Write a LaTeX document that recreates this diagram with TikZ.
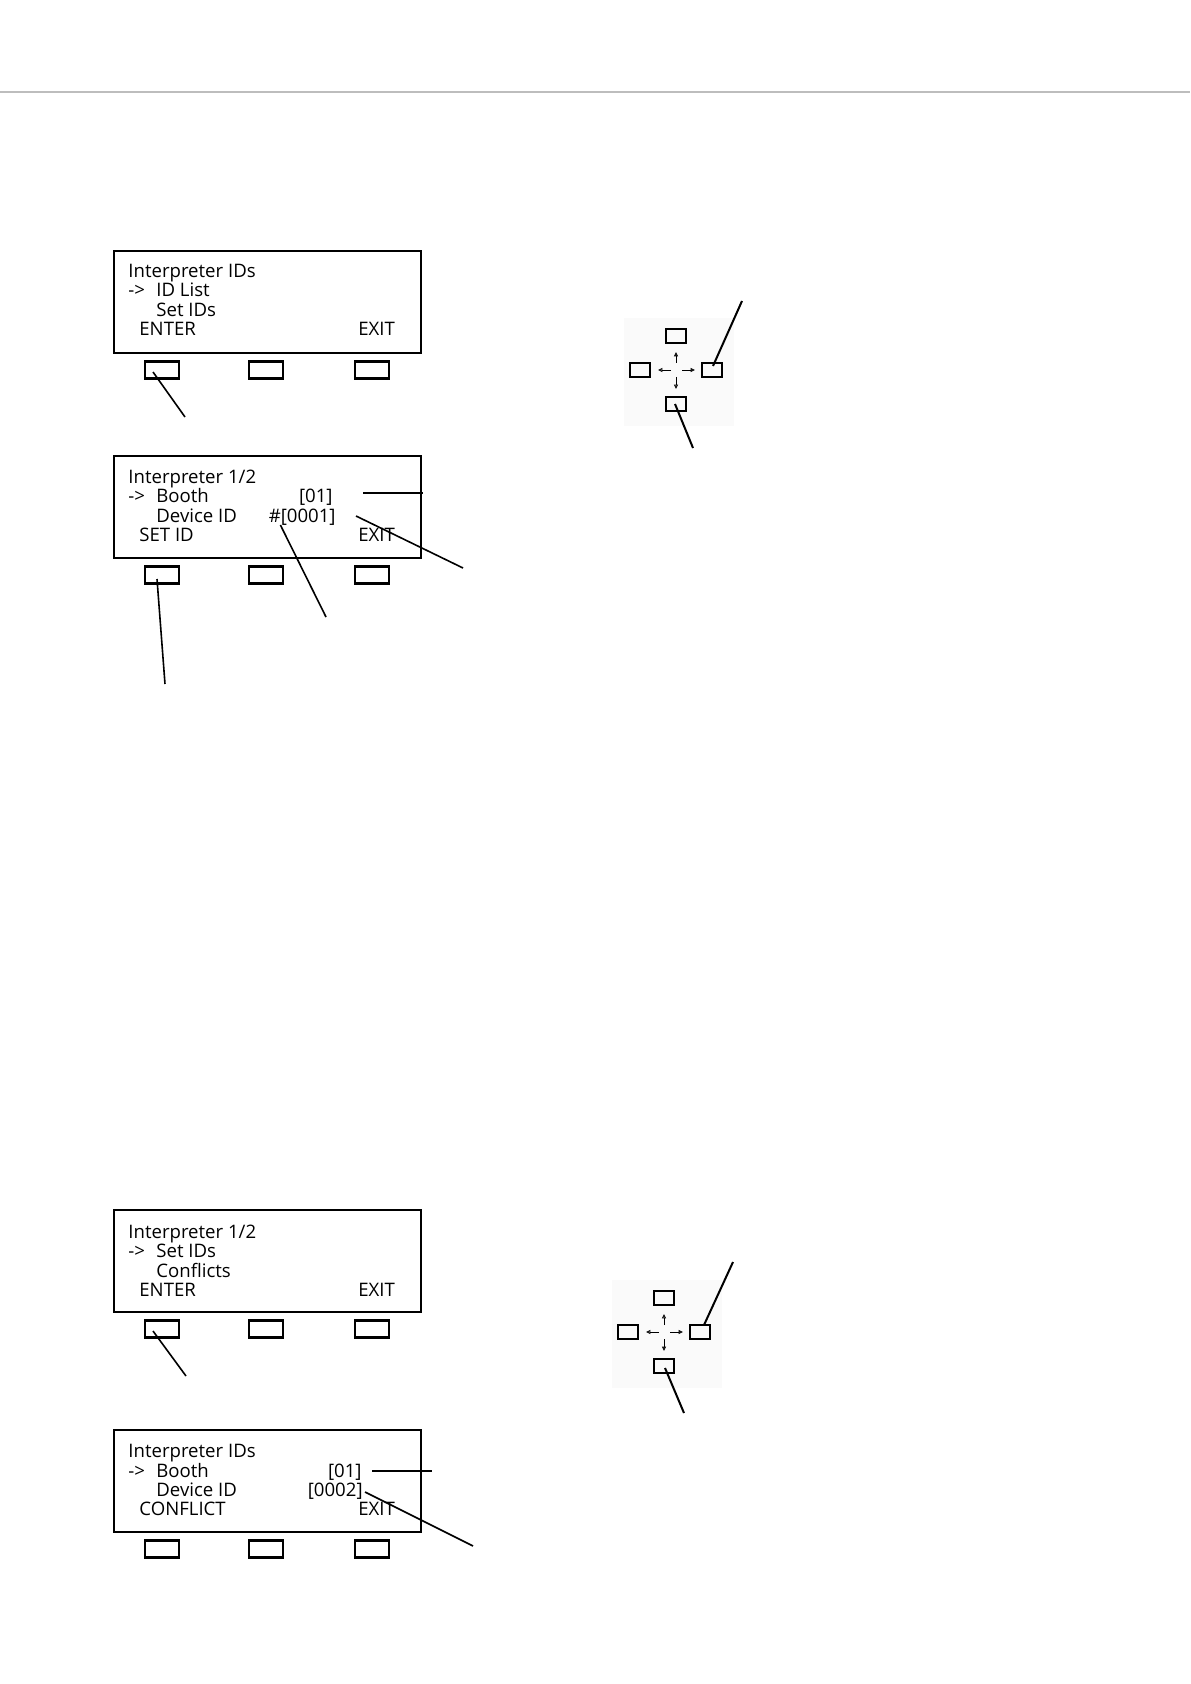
\documentclass[tikz,border=0pt]{standalone}
\usepackage{fontspec}
\setmainfont{Open Sans}
\usetikzlibrary{arrows.meta, calc}
\definecolor{rulegrey}{HTML}{BDBDBD}
\definecolor{padshade}{HTML}{FAFAFA}
\tikzset{
  lcdframe/.style={line width=1.2pt},
  softkey/.style={draw, line width=1.15pt, minimum width=17pt, minimum height=8.5pt, inner sep=0pt},
  navkey/.style={draw, line width=1.3pt, minimum width=10pt, minimum height=7pt, inner sep=0pt},
  lcdtext/.style={anchor=base west, inner sep=0pt, font=\fontsize{9.3}{10}\selectfont},
  lcdval/.style={lcdtext, anchor=base east},
  leader/.style={line width=0.8pt},
  navarrow/.style={line width=0.45pt, -{Triangle[open, length=2.2pt, width=2pt]}}
}
% screen frame with its three soft keys: name, top edge
\newcommand{\lcd}[2]{%
  \draw[lcdframe] (114,#2) rectangle (421,#2+102);
  \foreach \k/\bx in {1/162,2/266,3/372}
    \node[softkey] (#1-k\k) at (\bx,#2+119) {};}
% four-way key pad: name, centre x, centre y
\newcommand{\navpad}[3]{%
  \begin{scope}[shift={(#2,#3)}]
    \fill[padshade] (-52,-52) rectangle (58,56);
    \node[navkey] (#1-up) at (0,-34) {};
    \node[navkey] (#1-lt) at (-36,0) {};
    \node[navkey] (#1-rt) at (36,0) {};
    \node[navkey] (#1-dn) at (0,34) {};
    \draw[navarrow] (0,-7) -- (0,-18);
    \draw[navarrow] (0,7) -- (0,19);
    \draw[navarrow] (-5,0) -- (-18,0);
    \draw[navarrow] (6,0) -- (19,0);
  \end{scope}}

\begin{document}
\begin{tikzpicture}[x=0.5pt, y=-0.5pt]
  \useasboundingbox (0,0) rectangle (1190,1684);
  \draw[rulegrey, line width=0.9pt] (0,92) -- (1190,92);

  % first screen
  \lcd{s1}{251}
  \node[lcdtext] (s1-title) at (128,278) {Interpreter IDs};
  \node[lcdtext] (s1-ptr) at (128,297) {->};
  \node[lcdtext] (s1-row1) at (156,297) {ID List};
  \node[lcdtext] (s1-row2) at (156,317) {Set IDs};
  \node[lcdtext] (s1-left) at (139,336) {ENTER};
  \node[lcdtext] (s1-right) at (358,336) {EXIT};
  \coordinate (s1-tip) at (185,417);
  \draw[leader] ($(s1-k1)+(-9,2)$) -- (s1-tip);

  % second screen
  \lcd{s2}{456}
  \node[lcdtext] (s2-title) at (128,483) {Interpreter 1/2};
  \node[lcdtext] (s2-ptr) at (128,502) {->};
  \node[lcdtext] (s2-row1) at (156,502) {Booth};
  \node[lcdval] (s2-booth) at (333,502) {[01]};
  \node[lcdtext] (s2-row2) at (156,522) {Device ID};
  \node[lcdval] (s2-dev) at (336,522) {\#[0001]};
  \node[lcdtext] (s2-left) at (139,541) {SET ID};
  \node[lcdtext] (s2-right) at (358,541) {EXIT};
  \coordinate (s2-booth-tip) at (423,493);
  \coordinate (s2-dev-tip) at (463,568);
  \coordinate (s2-hash-tip) at (326,617);
  \coordinate (s2-key-tip) at (165,684);
  \draw[leader] ($(s2-booth.base east)+(30,-9)$) -- (s2-booth-tip);
  \draw[leader] ($(s2-dev.base east)+(20,-6)$) -- (s2-dev-tip);
  \draw[leader] ($(s2-dev.base west)+(12,3)$) -- (s2-hash-tip);
  \draw[leader] ($(s2-k1)+(-5,4)$) -- (s2-key-tip);

  % first key pad
  \navpad{p1}{676}{370}
  \coordinate (p1-rt-tip) at (742,301);
  \coordinate (p1-dn-tip) at (693,448);
  \draw[leader, line width=1pt] ($(p1-rt)+(1,-4)$) -- (p1-rt-tip);
  \draw[leader, line width=1pt] ($(p1-dn)+(-1,0)$) -- (p1-dn-tip);

  % third screen
  \lcd{s3}{1210}
  \node[lcdtext] (s3-title) at (128,1238) {Interpreter 1/2};
  \node[lcdtext] (s3-ptr) at (128,1257) {->};
  \node[lcdtext] (s3-row1) at (156,1257) {Set IDs};
  \node[lcdtext] (s3-row2) at (156,1277) {Conflicts};
  \node[lcdtext] (s3-left) at (139,1296) {ENTER};
  \node[lcdtext] (s3-right) at (358,1296) {EXIT};
  \coordinate (s3-tip) at (186,1376);
  \draw[leader] ($(s3-k1)+(-9,2)$) -- (s3-tip);

  % second key pad
  \navpad{p2}{664}{1332}
  \coordinate (p2-rt-tip) at (733,1262);
  \coordinate (p2-dn-tip) at (684,1413);
  \draw[leader, line width=1pt] ($(p2-rt)+(4,-7)$) -- (p2-rt-tip);
  \draw[leader, line width=1pt] ($(p2-dn)+(1,2)$) -- (p2-dn-tip);

  % fourth screen
  \lcd{s4}{1430}
  \node[lcdtext] (s4-title) at (128,1457) {Interpreter IDs};
  \node[lcdtext] (s4-ptr) at (128,1477) {->};
  \node[lcdtext] (s4-row1) at (156,1477) {Booth};
  \node[lcdval] (s4-booth) at (362,1477) {[01]};
  \node[lcdtext] (s4-row2) at (156,1496) {Device ID};
  \node[lcdval] (s4-dev) at (363,1496) {[0002]};
  \node[lcdtext] (s4-left) at (139,1515) {CONFLICT};
  \node[lcdtext] (s4-right) at (358,1515) {EXIT};
  \coordinate (s4-booth-tip) at (432,1471);
  \coordinate (s4-dev-tip) at (473,1546);
  \draw[leader] ($(s4-booth.base east)+(10,-6)$) -- (s4-booth-tip);
  \draw[leader] ($(s4-dev.base east)+(2,-4)$) -- (s4-dev-tip);
\end{tikzpicture}
\end{document}
